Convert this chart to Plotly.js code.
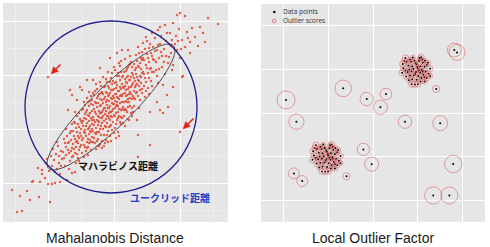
<!DOCTYPE html>
<html>
<head>
<meta charset="utf-8">
<script src="https://cdn.plot.ly/plotly-3.0.1.min.js"></script>
<style>
  html, body { margin: 0; padding: 0; background: #ffffff; }
  #chart { width: 490px; height: 247px; }
</style>
</head>
<body>
<div id="chart"></div>
<script>
// ---------- Left panel: correlated 2-D sample ----------
const sampleXY = [
  [0.9,3.2],[1.4,1.0],[1.9,1.1],[1.7,2.6],[2.9,4.0],[2.4,3.1],[2.7,2.2],[3.0,4.1],[3.7,4.0],[3.6,2.5],[3.9,4.8],[3.5,5.4],[3.9,5.2],
  [4.7,2.0],[4.5,3.8],[4.9,3.8],[4.3,5.9],[4.6,5.1],[4.8,6.6],[4.2,4.4],[4.4,6.3],[4.9,5.6],[4.5,14.5],
  [5.2,3.9],[5.7,4.0],[5.1,6.2],[5.4,5.3],[5.8,7.1],[5.3,6.8],[5.6,5.9],[5.9,6.3],[5.2,5.0],[5.5,7.6],[5.7,4.8],[5.0,7.3],[5.8,5.6],[5.4,8.0],[5.6,6.6],
  [6.4,4.2],[6.9,4.9],[6.7,13.2],[6.9,12.7],[6.5,11.2],[6.1,6.4],[6.3,7.5],[6.6,6.9],[6.8,8.2],[6.2,5.6],[6.5,7.9],[6.7,6.1],[6.9,7.4],[6.0,7.0],[6.4,8.6],[6.6,5.3],[6.8,9.1],[6.3,6.7],[6.9,6.5],[6.1,8.3],[6.5,7.2],[6.7,8.9],
  [6.2,7.9],[6.6,8.0],[6.8,7.1],[6.3,9.3],[6.9,9.8],
  [7.2,5.0],[7.4,12.2],[7.9,13.2],[7.7,13.5],[7.0,7.8],[7.1,8.6],[7.2,6.9],[7.3,9.4],[7.3,7.5],[7.4,8.1],[7.5,6.4],[7.5,9.8],[7.6,8.4],[7.6,7.2],[7.7,10.3],[7.7,8.9],[7.8,7.7],[7.8,9.3],[7.9,8.2],[7.9,6.9],[7.1,10.0],[7.2,8.3],[7.4,9.0],[7.5,7.9],[7.6,10.9],[7.8,8.6],[7.9,9.9],[7.0,6.6],[7.3,5.9],[7.6,6.1],
  [7.0,9.1],[7.1,7.3],[7.2,9.9],[7.3,8.0],[7.4,10.6],[7.5,8.6],[7.6,9.5],[7.7,7.5],[7.8,10.1],[7.9,11.2],[7.4,6.8],[7.2,11.0],
  [8.4,14.2],[8.0,8.4],[8.0,9.6],[8.1,7.7],[8.1,10.4],[8.2,8.9],[8.2,9.2],[8.3,7.1],[8.3,11.0],[8.3,8.6],[8.4,9.9],[8.4,8.0],[8.5,10.7],[8.5,9.3],[8.5,7.5],[8.6,8.8],[8.6,11.6],[8.6,10.1],[8.7,9.6],[8.7,8.2],[8.7,12.1],[8.8,10.4],[8.8,9.0],[8.8,7.2],[8.9,11.1],[8.9,9.8],[8.9,8.5],[8.0,11.3],[8.1,6.5],[8.2,10.8],[8.4,12.4],[8.5,6.7],[8.6,9.4],[8.7,10.9],[8.9,10.2],[8.3,9.6],[8.6,7.9],[8.8,11.8],
  [8.0,10.1],[8.1,9.0],[8.2,11.7],[8.2,7.5],[8.3,10.3],[8.4,11.2],[8.5,8.3],[8.5,12.0],[8.6,10.6],[8.7,9.1],[8.8,12.6],[8.9,9.3],[8.9,12.2],[8.1,12.0],[8.4,7.4],[8.6,13.0],[8.8,8.0],
  [9.0,14.2],[9.7,15.4],[9.0,9.1],[9.0,10.5],[9.1,8.4],[9.1,11.3],[9.1,9.7],[9.2,10.0],[9.2,7.9],[9.2,12.0],[9.3,9.4],[9.3,10.8],[9.3,8.8],[9.4,11.5],[9.4,10.2],[9.4,9.0],[9.5,12.6],[9.5,10.6],[9.5,8.3],[9.5,9.7],[9.6,11.1],[9.6,10.0],[9.6,7.6],[9.7,10.9],[9.7,9.3],[9.7,12.3],[9.8,10.4],[9.8,8.7],[9.8,11.7],[9.9,9.9],[9.9,11.0],[9.9,13.0],[9.1,12.7],[9.3,7.3],[9.4,13.3],[9.6,9.0],[9.8,9.6],[9.9,8.1],[9.2,11.0],[9.5,11.9],[9.7,7.8],[9.0,8.0],[9.8,13.6],
  [9.0,11.7],[9.1,10.2],[9.2,8.9],[9.2,13.1],[9.3,11.9],[9.4,8.1],[9.4,12.4],[9.5,10.1],[9.6,12.8],[9.6,10.5],[9.7,11.6],[9.8,12.9],[9.8,10.9],[9.9,10.4],[9.9,12.2],[9.0,12.9],[9.3,13.8],[9.5,7.6],[9.7,14.0],[9.9,7.4],
  [10.7,16.4],[10.0,10.6],[10.0,9.3],[10.0,11.9],[10.1,10.1],[10.1,11.4],[10.1,8.7],[10.2,10.8],[10.2,12.5],[10.2,9.6],[10.3,11.1],[10.3,10.3],[10.3,8.2],[10.4,11.7],[10.4,9.9],[10.4,12.9],[10.5,10.6],[10.5,11.4],[10.5,9.1],[10.6,12.1],[10.6,10.9],[10.6,13.4],[10.7,10.2],[10.7,11.6],[10.7,8.6],[10.8,12.4],[10.8,11.0],[10.8,9.7],[10.9,11.9],[10.9,10.5],[10.9,13.8],[10.0,12.8],[10.1,7.6],[10.2,13.6],[10.3,12.0],[10.4,10.6],[10.5,8.0],[10.6,11.4],[10.7,12.9],[10.8,14.4],[10.9,9.2],[10.3,14.3],[10.5,12.6],[10.6,9.5],[10.8,8.1],[10.9,12.3],
  [10.0,11.2],[10.1,12.3],[10.1,13.5],[10.2,11.4],[10.3,9.5],[10.3,13.0],[10.4,12.2],[10.4,8.7],[10.5,13.6],[10.6,10.4],[10.6,12.7],[10.7,11.0],[10.7,14.0],[10.8,10.6],[10.8,13.2],[10.9,11.1],[10.9,14.9],[10.0,14.5],[10.2,7.9],[10.5,15.0],[10.7,9.6],[10.4,14.0],
  [11.9,17.2],[11.4,16.9],[11.0,11.3],[11.0,12.6],[11.0,10.0],[11.1,11.8],[11.1,10.7],[11.1,13.3],[11.2,12.1],[11.2,9.4],[11.2,11.4],[11.3,12.8],[11.3,10.9],[11.3,14.0],[11.4,11.7],[11.4,10.2],[11.4,12.5],[11.5,13.1],[11.5,11.0],[11.5,9.0],[11.6,12.3],[11.6,14.6],[11.6,10.6],[11.7,11.9],[11.7,13.5],[11.7,10.0],[11.8,12.7],[11.8,11.2],[11.8,15.0],[11.9,12.0],[11.9,13.8],[11.9,10.4],[11.0,14.1],[11.1,8.9],[11.2,15.2],[11.3,11.6],[11.4,13.7],[11.5,12.4],[11.6,8.6],[11.7,15.6],[11.8,9.8],[11.9,11.3],[11.2,13.9],[11.5,14.9],
  [11.0,11.8],[11.0,13.2],[11.1,12.4],[11.2,10.6],[11.2,12.8],[11.3,13.4],[11.3,9.8],[11.4,12.0],[11.4,14.6],[11.5,11.6],[11.5,10.4],[11.6,13.1],[11.6,11.3],[11.7,12.6],[11.7,14.2],[11.8,13.3],[11.8,10.5],[11.9,12.6],[11.9,14.5],[11.1,15.5],[11.3,8.4],[11.6,15.9],[11.8,16.1],
  [12.5,17.2],[12.0,12.8],[12.0,11.5],[12.1,13.4],[12.1,12.0],[12.1,10.6],[12.2,12.9],[12.2,14.3],[12.2,11.3],[12.3,13.2],[12.3,12.1],[12.3,15.1],[12.4,12.7],[12.4,11.0],[12.4,13.9],[12.5,12.3],[12.5,14.6],[12.5,10.3],[12.6,13.5],[12.6,12.0],[12.6,15.7],[12.7,13.0],[12.7,11.6],[12.7,14.2],[12.8,12.8],[12.8,16.0],[12.8,10.9],[12.9,13.7],[12.9,12.3],[12.9,14.9],[12.0,9.9],[12.2,16.3],[12.4,15.3],[12.6,10.2],[12.8,14.5],[12.3,11.2],[12.7,15.8],[12.9,11.4],
  [12.0,13.5],[12.0,14.6],[12.1,11.2],[12.1,15.0],[12.2,13.6],[12.3,12.6],[12.3,14.0],[12.4,14.5],[12.4,12.0],[12.5,13.3],[12.5,15.5],[12.6,12.8],[12.6,14.2],[12.7,12.4],[12.7,16.6],[12.8,13.5],[12.9,15.5],[12.9,10.6],[12.2,9.6],[12.5,11.5],
  [13.4,10.2],[13.5,8.7],[13.5,6.5],[13.0,13.9],[13.0,12.6],[13.1,14.4],[13.1,13.1],[13.2,15.2],[13.2,12.3],[13.3,13.7],[13.3,14.8],[13.4,13.0],[13.4,16.1],[13.5,14.2],[13.5,12.6],[13.6,15.5],[13.6,13.6],[13.7,14.6],[13.7,12.2],[13.8,16.4],[13.8,13.9],[13.9,14.9],[13.9,12.9],[13.1,11.6],[13.3,16.7],[13.6,11.4],[13.8,15.3],[13.2,14.1],[13.9,17.0],[13.4,14.5],
  [13.0,14.7],[13.1,12.4],[13.1,15.8],[13.2,13.5],[13.3,12.9],[13.3,15.4],[13.4,13.8],[13.5,15.6],[13.6,14.1],[13.6,16.9],[13.7,13.2],[13.7,15.9],[13.8,14.5],[13.9,16.2],[13.9,13.3],[13.0,11.0],[13.5,17.5],
  [14.0,17.9],[14.9,18.9],[14.7,11.0],[14.7,7.7],[14.0,15.0],[14.1,13.6],[14.1,16.2],[14.2,14.4],[14.3,15.7],[14.3,13.1],[14.4,16.8],[14.5,14.9],[14.5,13.4],[14.6,16.0],[14.6,17.4],[14.8,15.4],[14.8,14.1],[14.9,16.6],[14.2,12.5],[14.4,18.1],[14.7,17.8],[14.9,13.6],
  [14.0,16.4],[14.1,14.8],[14.2,17.3],[14.3,14.0],[14.4,15.4],[14.5,16.4],[14.6,14.4],[14.7,15.3],[14.8,16.9],[14.9,15.0],[14.3,18.5],[14.6,12.8],
  [15.7,19.5],[15.5,19.2],[15.4,12.0],[15.7,11.2],[15.0,16.3],[15.1,15.0],[15.2,17.1],[15.3,16.0],[15.4,14.6],[15.5,17.7],[15.6,16.4],[15.8,17.0],[15.9,15.5],[15.2,18.4],[15.8,18.6],
  [15.0,17.5],[15.1,16.2],[15.3,15.2],[15.4,17.2],[15.6,15.3],[15.7,17.8],[15.9,16.6],[15.5,13.9],
  [16.2,19.7],[16.4,18.9],[16.7,18.9],[16.9,15.2],[16.0,13.7],[16.4,12.7],[16.5,11.5],[16.0,10.9],[16.1,17.3],[16.3,16.6],[16.6,17.8],[16.8,16.9],[16.9,18.2],[16.5,15.9],
  [16.1,16.0],[16.3,18.1],[16.6,16.5],[16.8,17.6],[16.2,14.8],
  [17.4,20.7],[17.7,20.9],[17.0,19.9],[17.9,18.2],[17.4,17.2],[17.7,16.4],[17.0,15.7],[17.9,14.5],[17.0,13.5],[17.7,9.0],[17.3,18.6],[17.6,19.3],
  [17.2,17.8],[17.5,18.1],[17.8,17.3],
  [18.2,20.6],[18.9,19.4],[18.4,19.0],[18.7,18.0],[18.2,17.5],[18.7,16.9],[18.0,14.6],[18.5,18.4],
  [19.7,19.5],[19.2,18.5],[19.5,17.6],
  [20.5,20.4],[20.0,18.9],[20.2,18.0],
  [21.5,19.8]
];
// Sample mean, Euclidean threshold and Mahalanobis ellipse (semi-axes, rotation)
const sampleCenter = [10.8, 11.5];
const euclidRadius = 8.6;
const mahalAxes = [8.75, 2.0];
const mahalAngleDeg = 44.5;
// Two points flagged by arrows
const flaggedXY = [[4.5, 14.5], [17.7, 9.0]];
const flaggedTail = [[5.9, 15.9], [19.2, 10.5]];

// ---------- Right panel: LOF ----------
// inlier offsets shared by both clusters, with their normalised outlier scores
const inlierOffsets = [
  [-0.55,0.52],[0.15,0.56],[-0.67,0.25],[-0.64,0.05],[-0.70,-0.15],[-0.52,-0.32],[-0.28,-0.68],[-0.13,-0.69],[0.00,-0.68],[0.55,0.03],
  [0.40,-0.40],[0.82,-0.90],[0.30,-0.55],[-0.40,-0.50],[0.45,0.30],[-0.30,0.35],[-0.15,0.40],[0.05,0.38],[0.22,0.30],[-0.42,0.18],
  [-0.25,0.15],[-0.05,0.22],[0.12,0.15],[0.30,0.12],[-0.38,0.00],[-0.20,0.02],[0.00,0.05],[0.18,-0.02],[0.35,-0.10],[-0.45,-0.12],
  [-0.28,-0.10],[-0.08,-0.12],[0.10,-0.15],[0.25,-0.25],[-0.35,-0.28],[-0.18,-0.28],[0.02,-0.30],[0.15,-0.40],[-0.25,-0.45],[-0.05,-0.48],
  [0.08,0.52],[-0.10,0.28],[0.20,0.45],[-0.35,0.45],[0.40,0.20],[-0.50,0.35],[0.30,-0.35],[-0.12,-0.20],[0.05,-0.05],[0.48,-0.20],
  [-0.55,-0.05],[0.22,-0.10],[-0.02,0.12],[0.12,-0.55],[-0.22,0.55],[0.32,0.40],[0.55,-0.30],[-0.60,0.40]
];
const inlierScores = [
  0.13,0.11,0.12,0.10,0.12,0.10,0.11,0.11,0.11,0.10,
  0.09,0.16,0.075,0.075,0.075,0.055,0.055,0.045,0.055,0.055,
  0.045,0.045,0.045,0.045,0.055,0.045,0.045,0.045,0.055,0.055,
  0.045,0.045,0.045,0.055,0.055,0.045,0.045,0.055,0.055,0.055,
  0.065,0.045,0.055,0.065,0.055,0.065,0.055,0.045,0.045,0.065,
  0.055,0.045,0.045,0.065,0.065,0.065,0.075,0.09
];
const clusterShifts = [2, -2];
const outlierX = [3.63, 3.75, -1.33, -3.88, -0.28, 0.58, 0.33, -3.42, 1.43, 3.00, -0.43, -0.06, 3.58, -3.53, -3.16, 2.69, 3.41];
const outlierY = [2.89, 2.78, 1.13, 0.60, 0.64, 0.87, 0.26, -0.40, -0.40, -0.47, -1.67, -2.35, -2.34, -2.77, -3.12, -3.78, -3.78];
const outlierScores = [0.60, 0.79, 0.86, 1.00, 0.55, 0.42, 0.60, 0.72, 0.55, 0.69, 0.47, 0.60, 0.93, 0.37, 0.37, 0.93, 0.89];

// ---------- build traces ----------
const W = 490, H = 247;
const lofX = [], lofY = [], lofS = [];
clusterShifts.forEach(c => {
  inlierOffsets.forEach((o, i) => { lofX.push(o[0] + c); lofY.push(o[1] + c); lofS.push(inlierScores[i]); });
});
outlierX.forEach((x, i) => { lofX.push(x); lofY.push(outlierY[i]); lofS.push(outlierScores[i]); });
const maxCircle = 18;  // px diameter for score 1
const circleSize = lofS.map(s => maxCircle * Math.sqrt(s));
const ringColor = 'rgba(208,62,62,0.8)';

const traces = [
  { type: 'scatter', mode: 'markers', xaxis: 'x', yaxis: 'y',
    x: sampleXY.map(p => p[0]), y: sampleXY.map(p => p[1]),
    marker: { size: 2.5, color: '#e2553f', opacity: 0.92 }, hoverinfo: 'skip', showlegend: false },
  { type: 'scatter', mode: 'markers', xaxis: 'x2', yaxis: 'y2', x: lofX, y: lofY,
    marker: { size: 2, color: '#000000' }, showlegend: false, hoverinfo: 'skip' },
  { type: 'scatter', mode: 'markers', xaxis: 'x2', yaxis: 'y2', x: lofX, y: lofY,
    marker: { symbol: 'circle-open', size: circleSize, color: ringColor, line: { width: 0.8 } },
    showlegend: false, hoverinfo: 'skip' }
];

// Mahalanobis ellipse outline
function ellipsePath(c, ax, deg, n) {
  const a = deg * Math.PI / 180;
  let d = '';
  for (let i = 0; i <= n; i++) {
    const t = 2 * Math.PI * i / n;
    const ex = ax[0] * Math.cos(t), ey = ax[1] * Math.sin(t);
    const x = c[0] + ex * Math.cos(a) - ey * Math.sin(a);
    const y = c[1] + ex * Math.sin(a) + ey * Math.cos(a);
    d += (i ? 'L' : 'M') + x.toFixed(3) + ',' + y.toFixed(3);
  }
  return d + 'Z';
}

const px2x = p => p / W, px2y = p => 1 - p / H;

const shapes = [
  { type: 'path', xref: 'x', yref: 'y', path: ellipsePath(sampleCenter, mahalAxes, mahalAngleDeg, 96),
    line: { color: '#4a4a4a', width: 1 } },
  { type: 'circle', xref: 'x', yref: 'y',
    x0: sampleCenter[0] - euclidRadius, x1: sampleCenter[0] + euclidRadius,
    y0: sampleCenter[1] - euclidRadius, y1: sampleCenter[1] + euclidRadius,
    line: { color: '#1c1c92', width: 1.3 } },
  // legend symbols
  { type: 'circle', xref: 'paper', yref: 'paper', xsizemode: 'pixel', ysizemode: 'pixel',
    xanchor: px2x(274.3), yanchor: px2y(12), x0: -1.2, x1: 1.2, y0: -1.2, y1: 1.2,
    fillcolor: '#000', line: { width: 0 } },
  { type: 'circle', xref: 'paper', yref: 'paper', xsizemode: 'pixel', ysizemode: 'pixel',
    xanchor: px2x(274.3), yanchor: px2y(21), x0: -1.8, x1: 1.8, y0: -1.8, y1: 1.8,
    line: { color: ringColor, width: 0.8 } }
];

const annotations = [
  { xref: 'x', yref: 'y', x: 11.5, y: 5.7, text: '<b>マハラビノス距離</b>', showarrow: false,
    font: { family: 'Noto Sans CJK JP', size: 10, color: '#111111' } },
  { xref: 'x', yref: 'y', x: 16.7, y: 2.5, text: '<b>ユークリッド距離</b>', showarrow: false,
    font: { family: 'Noto Sans CJK JP', size: 10, color: '#2b3dc2' } },
  { xref: 'paper', yref: 'paper', x: px2x(114.5), y: px2y(238), text: 'Mahalanobis Distance', showarrow: false,
    xanchor: 'center', yanchor: 'middle', font: { family: 'Liberation Sans, Arial', size: 14, color: '#1a1a1a' } },
  { xref: 'paper', yref: 'paper', x: px2x(373), y: px2y(238), text: 'Local Outlier Factor', showarrow: false,
    xanchor: 'center', yanchor: 'middle', font: { family: 'Liberation Sans, Arial', size: 14, color: '#1a1a1a' } },
  { xref: 'paper', yref: 'paper', x: px2x(281), y: px2y(11.7), text: 'Data points', showarrow: false,
    xanchor: 'left', yanchor: 'middle', font: { family: 'Open Sans', size: 6.5, color: '#333333' } },
  { xref: 'paper', yref: 'paper', x: px2x(281), y: px2y(20.7), text: 'Outlier scores', showarrow: false,
    xanchor: 'left', yanchor: 'middle', font: { family: 'Open Sans', size: 6.5, color: '#333333' } }
];
flaggedXY.forEach((p, i) => {
  annotations.push({ xref: 'x', yref: 'y', axref: 'x', ayref: 'y', x: p[0], y: p[1],
    ax: flaggedTail[i][0], ay: flaggedTail[i][1], text: '', showarrow: true,
    arrowhead: 2, arrowsize: 1, arrowwidth: 1.5, arrowcolor: '#e3241c', standoff: 4 });
});

const hiddenAxis = { showticklabels: false, ticks: '', zeroline: false, showline: false };
const layout = {
  width: W, height: H,
  margin: { l: 0, r: 0, t: 0, b: 0 },
  paper_bgcolor: '#ffffff', plot_bgcolor: '#e6e6e6',
  showlegend: false,
  xaxis: Object.assign({}, hiddenAxis, { domain: [3 / W, 228 / W], range: [0, 22.5], anchor: 'y',
    tick0: 4.5, dtick: 6.6, gridcolor: '#ffffff', gridwidth: 1,
    minor: { tick0: 1.2, dtick: 3.3, showgrid: true, gridcolor: '#f3f3f3', gridwidth: 0.6 } }),
  yaxis: Object.assign({}, hiddenAxis, { domain: [1 - 222 / H, 1 - 3 / H], range: [0, 21.9], anchor: 'x',
    tick0: 3.9, dtick: 5.4, gridcolor: '#ffffff', gridwidth: 1,
    minor: { tick0: 1.2, dtick: 2.7, showgrid: true, gridcolor: '#f3f3f3', gridwidth: 0.6 } }),
  xaxis2: Object.assign({}, hiddenAxis, { domain: [261 / W, 485 / W], range: [-5, 5], anchor: 'y2',
    tick0: 0, dtick: 2, gridcolor: '#ffffff', gridwidth: 1 }),
  yaxis2: Object.assign({}, hiddenAxis, { domain: [1 - 222 / H, 1 - 4 / H], range: [-5, 5], anchor: 'x2',
    tick0: 0, dtick: 2, gridcolor: '#ffffff', gridwidth: 1 }),
  shapes: shapes,
  annotations: annotations
};

Plotly.newPlot('chart', traces, layout, { staticPlot: true, displayModeBar: false });
</script>
</body>
</html>
